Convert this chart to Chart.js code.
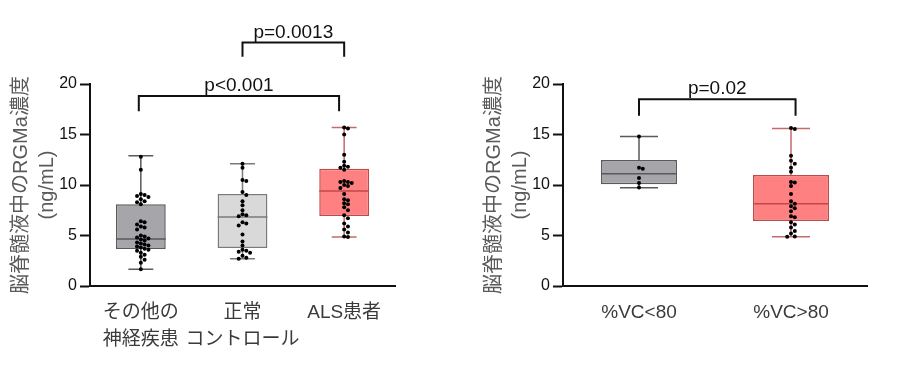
<!DOCTYPE html>
<html lang="ja">
<head>
<meta charset="utf-8">
<script src="https://cdn.jsdelivr.net/npm/chart.js@4.4.1/dist/chart.umd.min.js"></script>
<style>
  html, body { margin: 0; padding: 0; background: #fff; }
  body { width: 900px; height: 373px; position: relative; overflow: hidden; }
  canvas { position: absolute; top: 0; }
  #leftChart { left: 0; }
  #rightChart { left: 473px; }
</style>
</head>
<body>
<canvas id="leftChart" width="440" height="373"></canvas>
<canvas id="rightChart" width="427" height="373"></canvas>
<script>
// --- left panel: disease groups ---
const leftLabels = [['その他の', '神経疾患'], ['正常', 'コントロール'], 'ALS患者'];
const otherNeuroValues = [12.8, 11.5, 9.1, 9.0, 8.9, 8.8, 8.6, 8.4, 8.3, 8.1, 6.4, 6.3, 6.1, 5.9, 5.8, 5.6,
  5.0, 4.9, 4.8, 4.7, 4.6, 4.5, 4.3, 4.2, 4.1, 4.0, 3.9, 3.8, 3.7, 3.6, 3.5, 3.3, 3.1, 2.9, 2.6, 2.3, 1.65];
const controlValues = [12.1, 11.7, 10.5, 10.4, 9.3, 9.0, 8.4, 8.0, 7.5, 7.1, 7.0, 6.9, 6.3, 6.2, 6.0,
  5.1, 4.4, 4.0, 3.6, 3.5, 3.4, 3.3, 3.0, 2.8, 2.7];
const alsValues = [15.7, 15.6, 15.0, 13.0, 12.3, 11.9, 11.8, 11.7, 11.5, 10.4, 10.3, 10.3, 10.2, 10.0, 9.9,
  9.7, 9.1, 8.6, 8.5, 8.2, 8.1, 7.8, 7.5, 7.0, 6.7, 6.2, 5.9, 5.6, 5.3, 4.9, 4.85];
const leftMin = [1.65, 2.7, 4.85];
const leftQ1 = [3.66, 3.76, 6.93];
const leftMedian = [4.65, 6.83, 9.4];
const leftQ3 = [8.1, 9.1, 11.6];
const leftMax = [12.9, 12.1, 15.7];
const leftBracketLabels = ['p<0.001', 'p=0.0013'];
const leftBracketFrom = [-0.02, 1.0];
const leftBracketTo = [1.95, 2.0];
const leftBracketTop = [18.8, 24.1];
const leftBracketFoot = [17.3, 22.7];

// --- right panel: %VC groups ---
const rightLabels = ['%VC<80', '%VC>80'];
const vcLowValues = [14.8, 11.7, 11.6, 10.7, 10.2, 9.75];
const vcHighValues = [15.65, 15.55, 12.9, 12.4, 12.1, 11.7, 11.3, 10.3, 10.25, 9.9, 9.1, 8.4, 8.15, 7.9,
  7.7, 7.4, 6.9, 6.8, 6.3, 6.1, 5.8, 5.45, 5.2, 4.9, 4.88];
const rightMin = [9.73, 4.88];
const rightQ1 = [10.07, 6.43];
const rightMedian = [11.12, 8.15];
const rightQ3 = [12.47, 10.99];
const rightMax = [14.8, 15.6];
const rightBracketLabels = ['p=0.02'];
const rightBracketFrom = [0.0];
const rightBracketTo = [1.03];
const rightBracketTop = [18.5];
const rightBracketFoot = [16.85];

const yTicks = [0, 5, 10, 15, 20];
const yTitle = ['脳脊髄液中のRGMa濃度', '(ng/mL)'];

const FONT = "'Liberation Sans', 'Noto Sans CJK JP', sans-serif";
const darkGray = { fill: '#a5a5aa', line: '#5a5a5a' };
const lightGray = { fill: '#d9d9d9', line: '#7a7a7a' };
const red = { fill: '#ff8080', line: '#bf4a4a', whisker: '#c86a6a' };

// simple beeswarm so dots in the same height don't sit on top of each other
function swarm(values, index, pxPerCat) {
    const placed = [];
    const pxPerUnit = 10.1;
    const gap = 3.8;
    return values.map(v => {
        for (let k = 0; k < 30; k++) {
            const dx = k === 0 ? 0 : (k % 2 ? 1 : -1) * Math.ceil(k / 2) * gap;
            const free = placed.every(p => Math.hypot(p.dx - dx, (p.v - v) * pxPerUnit) >= gap);
            if (free) {
                placed.push({ dx, v });
                return { x: index + dx / pxPerCat, y: v };
            }
        }
        return { x: index, y: v };
    });
}

function whiskerPoints(i, lo, q1, q3, hi, boxHalf) {
    const cap = boxHalf / 2;
    const gap = { x: i, y: null };
    return [
        { x: i, y: hi }, { x: i, y: q3 }, gap,
        { x: i, y: q1 }, { x: i, y: lo }, gap,
        { x: i - cap, y: hi }, { x: i + cap, y: hi }, gap,
        { x: i - cap, y: lo }, { x: i + cap, y: lo }
    ];
}

const pValueLabels = {
    id: 'pValueLabels',
    afterDatasetsDraw(chart, args, opts) {
        const ctx = chart.ctx;
        const xs = chart.scales.x2;
        const ys = chart.scales.y;
        ctx.save();
        ctx.font = '19px ' + FONT;
        ctx.fillStyle = '#111';
        ctx.textAlign = 'center';
        ctx.textBaseline = 'alphabetic';
        opts.labels.forEach((txt, k) => {
            const cx = xs.getPixelForValue((opts.from[k] + opts.to[k]) / 2);
            const cy = ys.getPixelForValue(opts.top[k]) - 5;
            ctx.fillText(txt, cx, cy);
        });
        ctx.restore();
    }
};

function buildPanel(canvasId, p) {
    const n = p.labels.length;
    const boxHalf = p.barPct / 2;
    const datasets = [{
        type: 'bar',
        xAxisID: 'x',
        data: p.q1.map((q, i) => [q, p.q3[i]]),
        backgroundColor: p.colors.map(c => c.fill),
        borderColor: p.colors.map(c => c.line),
        borderWidth: 1.5,
        borderSkipped: false,
        grouped: false,
        barPercentage: p.barPct,
        categoryPercentage: 1,
        order: 4
    }];
    p.colors.forEach((c, i) => {
        datasets.push({
            type: 'line',
            xAxisID: 'x2',
            data: whiskerPoints(i, p.min[i], p.q1[i], p.q3[i], p.max[i], boxHalf),
            borderColor: c.whisker || c.line,
            borderWidth: 1.5,
            pointRadius: 0,
            spanGaps: false,
            order: 3
        });
        datasets.push({
            type: 'line',
            xAxisID: 'x2',
            data: [{ x: i - boxHalf, y: p.median[i] }, { x: i + boxHalf, y: p.median[i] }],
            borderColor: c.line,
            borderWidth: 1.5,
            pointRadius: 0,
            order: 2
        });
    });
    p.values.forEach((vals, i) => {
        datasets.push({
            type: 'scatter',
            xAxisID: 'x2',
            data: swarm(vals, i, p.pxPerCat),
            pointRadius: 2,
            pointBorderWidth: 0,
            backgroundColor: '#000',
            order: 1
        });
    });
    p.bracketLabels.forEach((lab, k) => {
        datasets.push({
            type: 'line',
            xAxisID: 'x2',
            data: [
                { x: p.bracketFrom[k], y: p.bracketFoot[k] },
                { x: p.bracketFrom[k], y: p.bracketTop[k] },
                { x: p.bracketTo[k], y: p.bracketTop[k] },
                { x: p.bracketTo[k], y: p.bracketFoot[k] }
            ],
            borderColor: '#111',
            borderWidth: 2,
            pointRadius: 0,
            clip: false,
            order: 0
        });
    });

    return new Chart(document.getElementById(canvasId), {
        type: 'bar',
        data: { labels: p.labels, datasets },
        plugins: [pValueLabels],
        options: {
            responsive: false,
            animation: false,
            events: [],
            layout: { padding: { top: 84, left: 0, right: p.padRight, bottom: 17 } },
            plugins: {
                legend: { display: false },
                tooltip: { enabled: false },
                pValueLabels: {
                    labels: p.bracketLabels, from: p.bracketFrom, to: p.bracketTo, top: p.bracketTop
                }
            },
            scales: {
                x: {
                    type: 'category',
                    offset: true,
                    grid: { display: true, drawOnChartArea: false, drawTicks: false },
                    border: { color: '#111', width: 2 },
                    ticks: {
                        padding: 13,
                        color: '#3a3a3a',
                        autoSkip: false,
                        maxRotation: 0,
                        minRotation: 0,
                        font: { family: FONT, size: 19, lineHeight: 1.42 }
                    },
                    afterFit(scale) { scale.height = 70; }
                },
                x2: {
                    type: 'linear',
                    display: false,
                    offset: false,
                    min: -0.5,
                    max: n - 0.5
                },
                y: {
                    min: 0,
                    max: 20,
                    afterBuildTicks(scale) { scale.ticks = yTicks.map(v => ({ value: v })); },
                    grid: { drawOnChartArea: false, tickLength: 10, tickWidth: 2, tickColor: '#111' },
                    border: { color: '#111', width: 2 },
                    ticks: {
                        padding: 3,
                        color: '#111',
                        font: { family: FONT, size: 16 }
                    },
                    title: {
                        display: true,
                        text: yTitle,
                        color: '#5a5a5a',
                        padding: { top: 8, bottom: 0 },
                        font: { family: FONT, size: 20, lineHeight: 1.3 }
                    },
                    afterFit(scale) { scale.width = 90; }
                }
            }
        }
    });
}

buildPanel('leftChart', {
    labels: leftLabels,
    values: [otherNeuroValues, controlValues, alsValues],
    min: leftMin, q1: leftQ1, median: leftMedian, q3: leftQ3, max: leftMax,
    colors: [darkGray, lightGray, red],
    barPct: 0.49,
    pxPerCat: 101.7,
    padRight: 45,
    bracketLabels: leftBracketLabels, bracketFrom: leftBracketFrom, bracketTo: leftBracketTo,
    bracketTop: leftBracketTop, bracketFoot: leftBracketFoot
});

buildPanel('rightChart', {
    labels: rightLabels,
    values: [vcLowValues, vcHighValues],
    min: rightMin, q1: rightQ1, median: rightMedian, q3: rightQ3, max: rightMax,
    colors: [darkGray, red],
    barPct: 0.5,
    pxPerCat: 152,
    padRight: 33,
    bracketLabels: rightBracketLabels, bracketFrom: rightBracketFrom, bracketTo: rightBracketTo,
    bracketTop: rightBracketTop, bracketFoot: rightBracketFoot
});
</script>
</body>
</html>
